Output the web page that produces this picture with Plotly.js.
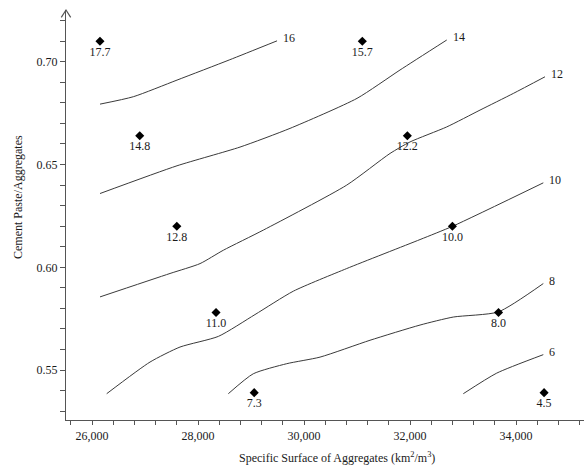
<!DOCTYPE html>
<html>
<head>
<meta charset="utf-8">
<script src="https://cdn.plot.ly/plotly-3.0.1.min.js"></script>
<style>html,body{margin:0;padding:0;background:#fff;}#chart{width:584px;height:466px;}</style>
</head>
<body>
<div id="chart"></div>
<script>
// Sample points
const pointX = [26150, 31100, 26900, 31950, 27600, 32800, 28340, 33670, 29060, 34530];
const pointY = [0.710, 0.710, 0.664, 0.664, 0.620, 0.620, 0.578, 0.578, 0.539, 0.539];
const pointLabels = ["17.7", "15.7", "14.8", "12.2", "12.8", "10.0", "11.0", "8.0", "7.3", "4.5"];

// Contour lines (level, x, y)
const levels = ["16", "14", "12", "10", "8", "6"];
const c16x = [26151, 26779, 27604, 28600, 29491];
const c16y = [0.6794, 0.6830, 0.6911, 0.7010, 0.7102];
const c14x = [26151, 27604, 28792, 29736, 31000, 31811, 32693];
const c14y = [0.6359, 0.6494, 0.6585, 0.6676, 0.6822, 0.6960, 0.7106];
const c12x = [26151, 27472, 28038, 28477, 29232, 30806, 31623, 32000, 32692, 33321, 33949, 34547];
const c12y = [0.5856, 0.5970, 0.6018, 0.6083, 0.6181, 0.6400, 0.6554, 0.6610, 0.6683, 0.6765, 0.6846, 0.6927];
const c10x = [26277, 27094, 27660, 28385, 29075, 29800, 30806, 32189, 32806, 34515];
const c10y = [0.5385, 0.5539, 0.5612, 0.5664, 0.5770, 0.5884, 0.5994, 0.6135, 0.6200, 0.6411];
const c8x = [28572, 29043, 29674, 30302, 31245, 32189, 32817, 33666, 34515];
const c8y = [0.5385, 0.5482, 0.5531, 0.5563, 0.5645, 0.5719, 0.5758, 0.5783, 0.5921];
const c6x = [33006, 33636, 34515];
const c6y = [0.5385, 0.5485, 0.5575];

const xTitle = "Specific Surface of Aggregates (km<sup>2</sup>/m<sup>3</sup>)";
const yTitle = "Cement Paste/Aggregates";

const FONT = "Liberation Serif, Times New Roman, serif";
const TXT = "#1a1a1a";
const lineCol = "#3a3a3a";
const contours = [[c16x, c16y], [c14x, c14y], [c12x, c12y], [c10x, c10y], [c8x, c8y], [c6x, c6y]];

const traces = contours.map((c) => ({
  x: c[0], y: c[1], type: "scatter", mode: "lines",
  line: {color: lineCol, width: 1, shape: "spline", smoothing: 0.6},
  hoverinfo: "skip", showlegend: false
}));

traces.push({
  x: pointX, y: pointY, type: "scatter", mode: "markers+text",
  text: pointLabels, textposition: "bottom center",
  textfont: {family: FONT, size: 12, color: TXT},
  marker: {symbol: "diamond", size: 7, color: "#000"},
  showlegend: false, cliponaxis: false
});

const annotations = contours.map((c, i) => ({
  x: c[0][c[0].length - 1], y: c[1][c[1].length - 1], xref: "x", yref: "y",
  text: levels[i], showarrow: false, xanchor: "left", yanchor: "middle",
  xshift: 4, yshift: 3, font: {family: FONT, size: 12, color: TXT}
}));
annotations.push({
  text: xTitle, xref: "paper", yref: "paper", x: (337 - 66) / 518, y: -(457 - 420) / 410,
  xanchor: "center", yanchor: "middle", showarrow: false,
  font: {family: FONT, size: 12, color: TXT}
});
annotations.push({
  text: yTitle, xref: "paper", yref: "paper", x: -(66 - 18) / 518, y: (420 - 197) / 410,
  xanchor: "center", yanchor: "middle", showarrow: false, textangle: -90,
  font: {family: FONT, size: 12, color: TXT}
});

const W = 518, H = 410;
const layout = {
  width: 584, height: 466,
  margin: {l: 66, r: 0, t: 10, b: 46},
  paper_bgcolor: "#fff", plot_bgcolor: "#fff",
  showlegend: false,
  font: {family: FONT, size: 12, color: TXT},
  xaxis: {
    range: [25509, 35283], showgrid: false, zeroline: false,
    showline: true, linecolor: "#555", linewidth: 1.2,
    ticks: "outside", ticklen: 4, tickcolor: "#555", tickwidth: 1,
    tick0: 0, dtick: 2000, tickformat: ",d",
    tickfont: {family: FONT, size: 12, color: TXT},
    minor: {dtick: 400, tick0: 0, ticks: "outside", ticklen: 4, tickcolor: "#555", tickwidth: 1, showgrid: false}
  },
  yaxis: {
    range: [0.5257, 0.7252], showgrid: false, zeroline: false,
    showline: true, linecolor: "#555", linewidth: 1.2,
    ticks: "outside", ticklen: 5, tickcolor: "#555", tickwidth: 1,
    tick0: 0, dtick: 0.05, tickformat: ".2f",
    tickfont: {family: FONT, size: 12, color: TXT},
    minor: {dtick: 0.01, tick0: 0, ticks: "outside", ticklen: 5, tickcolor: "#555", tickwidth: 1, showgrid: false}
  },
  shapes: [{
    type: "path", xref: "paper", yref: "paper",
    path: "M " + (-4.7 / W) + " " + (1 - 7.4 / H) + " L 0 1 L " + (4.7 / W) + " " + (1 - 7.4 / H),
    line: {color: "#555", width: 1.2}
  }],
  annotations: annotations
};

Plotly.newPlot("chart", traces, layout, {staticPlot: true, displayModeBar: false});
</script>
</body>
</html>
